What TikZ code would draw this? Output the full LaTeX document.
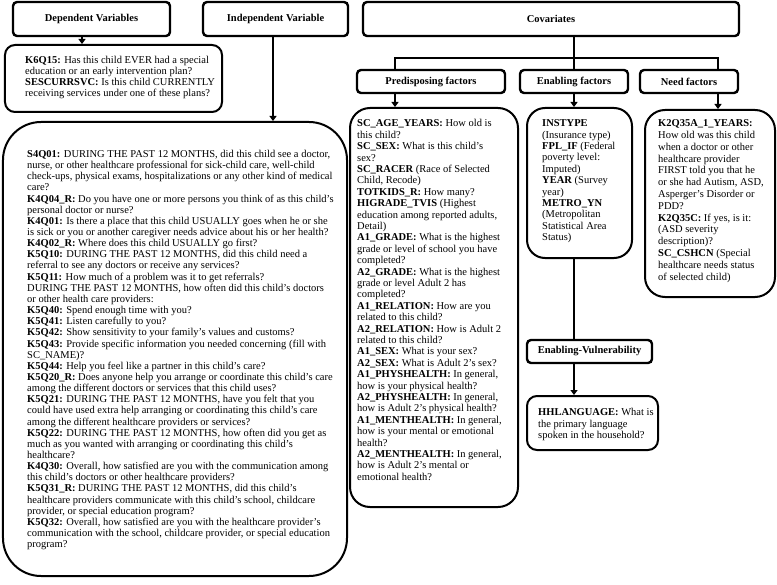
\documentclass[tikz,border=0pt]{standalone}
\usepackage{fontspec}
\setmainfont{Liberation Serif}
\usetikzlibrary{positioning, arrows.meta}

\tikzset{
  hdr/.style={draw, line width=2.4bp, rounded corners=4bp, inner sep=0pt,
    font=\bfseries\fontsize{10.5bp}{12bp}\selectfont},
  vbox/.style={draw, line width=2bp, inner sep=0pt},
  vtext/.style={anchor=north west, align=left, inner sep=0pt,
    font=\fontsize{10.5bp}{11.4bp}\selectfont},
  link/.style={line width=2.6bp},
  arr/.style={link, -{Triangle[length=5bp, width=7bp]}},
}

\begin{document}
\begin{tikzpicture}[x=1bp, y=-1bp]
\useasboundingbox (0,0) rectangle (777,585);

% headers
\node[hdr, minimum width=157bp, minimum height=34bp] (depH) at (91.5,19) {Dependent Variables};
\node[hdr, minimum width=145bp, minimum height=34bp] (indH) at (275.5,19) {Independent Variable};
\node[hdr, minimum width=376bp, minimum height=34bp] (covH) at (551,19) {Covariates};
\node[hdr, minimum width=148bp, minimum height=23bp] (preH) at (431,81.5) {Predisposing factors};
\node[hdr, minimum width=108bp, minimum height=23bp] (enaH) at (574,81.5) {Enabling factors};
\node[hdr, minimum width=98bp, minimum height=23bp] (needH) at (689,81.5) {Need factors};
\node[hdr, minimum width=125bp, minimum height=23bp] (vulH) at (589.5,351.5) {Enabling-Vulnerability};

% boxes
\node[vbox, rounded corners=10bp, minimum width=217bp, minimum height=67bp] (depBox) at (113.5,78.5) {};
\node[vbox, rounded corners=38bp, minimum width=344bp, minimum height=454bp] (mainBox) at (175,349) {};
\node[vbox, rounded corners=20bp, minimum width=168bp, minimum height=399bp] (preBox) at (434,307.5) {};
\node[vbox, rounded corners=18bp, minimum width=105bp, minimum height=150bp] (enaBox) at (579.5,183) {};
\node[vbox, rounded corners=20bp, minimum width=130bp, minimum height=187bp] (needBox) at (710,203.5) {};
\node[vbox, rounded corners=10bp, minimum width=131bp, minimum height=54bp] (hhBox) at (592.5,423) {};

% box texts
\node[vtext, font=\fontsize{10.5bp}{10.9bp}\selectfont] (depTxt) at (25,56) {%
\textbf{K6Q15:} Has this child EVER had a special\\
education or an early intervention plan?\\
\textbf{SESCURRSVC:} Is this child CURRENTLY\\
receiving services under one of these plans?};

\node[vtext, font=\fontsize{10.5bp}{11.15bp}\selectfont] (mainTxt) at (27,150) {%
\textbf{S4Q01:} DURING THE PAST 12 MONTHS, did this child see a doctor,\\
nurse, or other healthcare professional for sick-child care, well-child\\
check-ups, physical exams, hospitalizations or any other kind of medical\\
care?\\
\textbf{K4Q04\_R:} Do you have one or more persons you think of as this child's\\
personal doctor or nurse?\\
\textbf{K4Q01:} Is there a place that this child USUALLY goes when he or she\\
is sick or you or another caregiver needs advice about his or her health?\\
\textbf{K4Q02\_R:} Where does this child USUALLY go first?\\
\textbf{K5Q10:} DURING THE PAST 12 MONTHS, did this child need a\\
referral to see any doctors or receive any services?\\
\textbf{K5Q11:} How much of a problem was it to get referrals?\\
DURING THE PAST 12 MONTHS, how often did this child's doctors\\
or other health care providers:\\
\textbf{K5Q40:} Spend enough time with you?\\
\textbf{K5Q41:} Listen carefully to you?\\
\textbf{K5Q42:} Show sensitivity to your family's values and customs?\\
\textbf{K5Q43:} Provide specific information you needed concerning (fill with\\
SC\_NAME)?\\
\textbf{K5Q44:} Help you feel like a partner in this child's care?\\
\textbf{K5Q20\_R:} Does anyone help you arrange or coordinate this child's care\\
among the different doctors or services that this child uses?\\
\textbf{K5Q21:} DURING THE PAST 12 MONTHS, have you felt that you\\
could have used extra help arranging or coordinating this child's care\\
among the different healthcare providers or services?\\
\textbf{K5Q22:} DURING THE PAST 12 MONTHS, how often did you get as\\
much as you wanted with arranging or coordinating this child's\\
healthcare?\\
\textbf{K4Q30:} Overall, how satisfied are you with the communication among\\
this child's doctors or other healthcare providers?\\
\textbf{K5Q31\_R:} DURING THE PAST 12 MONTHS, did this child's\\
healthcare providers communicate with this child's school, childcare\\
provider, or special education program?\\
\textbf{K5Q32:} Overall, how satisfied are you with the healthcare provider's\\
communication with the school, childcare provider, or special education\\
program?};

\node[vtext] (preTxt) at (357,119.5) {%
\textbf{SC\_AGE\_YEARS:} How old is\\
this child?\\
\textbf{SC\_SEX:} What is this child's\\
sex?\\
\textbf{SC\_RACER} (Race of Selected\\
Child, Recode)\\
\textbf{TOTKIDS\_R:} How many?\\
\textbf{HIGRADE\_TVIS} (Highest\\
education among reported adults,\\
Detail)\\
\textbf{A1\_GRADE:} What is the highest\\
grade or level of school you have\\
completed?\\
\textbf{A2\_GRADE:} What is the highest\\
grade or level Adult 2 has\\
completed?\\
\textbf{A1\_RELATION:} How are you\\
related to this child?\\
\textbf{A2\_RELATION:} How is Adult 2\\
related to this child?\\
\textbf{A1\_SEX:} What is your sex?\\
\textbf{A2\_SEX:} What is Adult 2's sex?\\
\textbf{A1\_PHYSHEALTH:} In general,\\
how is your physical health?\\
\textbf{A2\_PHYSHEALTH:} In general,\\
how is Adult 2's physical health?\\
\textbf{A1\_MENTHEALTH:} In general,\\
how is your mental or emotional\\
health?\\
\textbf{A2\_MENTHEALTH:} In general,\\
how is Adult 2's mental or\\
emotional health?};

\node[vtext] (enaTxt) at (542,119.5) {%
\textbf{INSTYPE}\\
(Insurance type)\\
\textbf{FPL\_IF} (Federal\\
poverty level:\\
Imputed)\\
\textbf{YEAR} (Survey\\
year)\\
\textbf{METRO\_YN}\\
(Metropolitan\\
Statistical Area\\
Status)};

\node[vtext, font=\fontsize{10.5bp}{11.8bp}\selectfont] (needTxt) at (658,119.5) {%
\textbf{K2Q35A\_1\_YEARS:}\\
How old was this child\\
when a doctor or other\\
healthcare provider\\
FIRST told you that he\\
or she had Autism, ASD,\\
Asperger's Disorder or\\
PDD?\\
\textbf{K2Q35C:} If yes, is it:\\
(ASD severity\\
description)?\\
\textbf{SC\_CSHCN} (Special\\
healthcare needs status\\
of selected child)};

\node[vtext] (hhTxt) at (538,408.5) {%
\textbf{HHLANGUAGE:} What is\\
the primary language\\
spoken in the household?};

% connectors
\coordinate (depX) at (82,0);
\coordinate (jL) at (395,58);
\coordinate (jR) at (718,58);

\draw [arr] (depX |- depH.south) -- (depX |- depBox.north);
\draw [arr] (indH.south -| 273,0) -- (mainBox.north -| 273,0);
\draw [link] (enaH.north |- covH.south) -- (enaH.north);
\draw [link] (jL |- preH.north) -- (jL) -- (jR) -- (jR |- needH.north);
\draw [arr] (jL |- preH.south) -- (jL |- preBox.north);
\draw [arr] (enaH.south) -- (enaH.south |- enaBox.north);
\draw [arr] (jR |- needH.south) -- (jR |- needBox.north);
\draw [link] (enaH.south |- enaBox.south) -- (enaH.south |- vulH.north);
\draw [arr] (enaH.south |- vulH.south) -- (enaH.south |- hhBox.north);
\end{tikzpicture}
\end{document}
